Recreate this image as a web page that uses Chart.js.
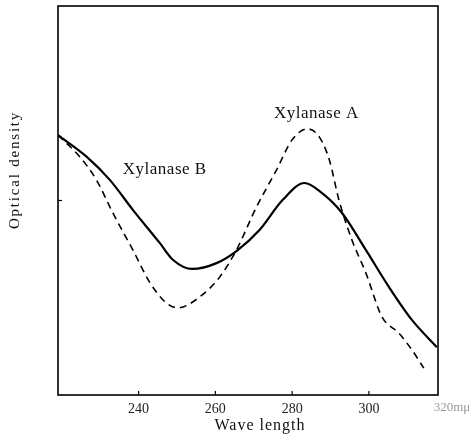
<!DOCTYPE html>
<html><head><meta charset="utf-8">
<script src="https://cdn.jsdelivr.net/npm/chart.js@4/dist/chart.umd.min.js"></script>
<style>html,body{margin:0;padding:0;background:#fff}#wrap{width:470px;height:440px}</style>
</head><body><div id="wrap"><canvas id="c" width="470" height="440"></canvas></div>
<script>
// Wavelength (mμ) samples and optical density (relative units)
const wavelengthB = [219, 226.5, 232.5, 238.5, 245.5, 249, 254, 260.3, 265.5, 271.5, 277.5, 283.2, 287.8, 293, 299.2, 305.2, 311.2, 317.7];
const densityB    = [66.8, 61.2, 55.3, 47.6, 39.1, 34.7, 32.4, 33.9, 37.0, 42.4, 50.1, 54.5, 51.9, 46.8, 37.3, 27.8, 19.3, 12.3];
const wavelengthA = [219, 224.7, 229, 233.3, 238.5, 243, 247.3, 250.2, 255.9, 261.1, 265.5, 270.7, 275.9, 280, 284, 287.1, 289.7, 292.2, 295.6, 299.2, 303.4, 307.8, 311.2, 314.3];
const densityA    = [66.8, 61.2, 55.3, 46.8, 37.3, 28.8, 23.6, 22.4, 25.2, 30.3, 37.3, 48.3, 57.8, 65.6, 68.4, 66.3, 60.4, 50.1, 39.8, 31.4, 20.1, 15.9, 11.6, 6.9];
const xTicks = [240, 260, 280, 300];
const yTicks = [50];
const seriesNames = ["Xylanase A", "Xylanase B"];

const toPts = (xs, ys) => xs.map((x, i) => ({x, y: ys[i]}));
const SERIF = "'Liberation Serif', 'DejaVu Serif', serif";

const decor = {
  id: 'decor',
  afterDraw(chart) {
    const {ctx, chartArea: a, scales: {x, y}} = chart;
    ctx.save();
    ctx.strokeStyle = '#000';
    ctx.lineWidth = 1.6;
    ctx.strokeRect(a.left, a.top, a.right - a.left, a.bottom - a.top);
    ctx.lineWidth = 1.2;
    xTicks.forEach(v => { const px = x.getPixelForValue(v); ctx.beginPath(); ctx.moveTo(px, a.bottom); ctx.lineTo(px, a.bottom - 4); ctx.stroke(); });
    yTicks.forEach(v => { const py = y.getPixelForValue(v); ctx.beginPath(); ctx.moveTo(a.left, py); ctx.lineTo(a.left + 4, py); ctx.stroke(); });
    ctx.fillStyle = '#111';
    ctx.textAlign = 'center'; ctx.textBaseline = 'middle';
    ctx.font = '17px ' + SERIF;
    ctx.letterSpacing = '0.5px';
    ctx.fillText(seriesNames[0], x.getPixelForValue(286.3), y.getPixelForValue(72.3));
    ctx.fillText(seriesNames[1], x.getPixelForValue(246.8), y.getPixelForValue(57.9));
    ctx.font = '16px ' + SERIF;
    ctx.letterSpacing = '1px';
    ctx.fillText('Wave length', 260, a.bottom + 31);
    ctx.letterSpacing = '0px';
    ctx.font = '13px ' + SERIF;
    ctx.fillStyle = '#999';
    ctx.fillText('320mμ', a.right + 14, a.bottom + 13);
    ctx.fillStyle = '#111';
    ctx.translate(15, 170);
    ctx.rotate(-Math.PI / 2);
    ctx.font = '15px ' + SERIF;
    ctx.letterSpacing = '1.8px';
    ctx.fillText('Optical density', 0, 0);
    ctx.restore();
  }
};

new Chart(document.getElementById('c'), {
  type: 'line',
  data: {
    datasets: [
      { label: seriesNames[1], data: toPts(wavelengthB, densityB), borderColor: '#000', borderWidth: 2.2, pointRadius: 0, cubicInterpolationMode: 'monotone', fill: false },
      { label: seriesNames[0], data: toPts(wavelengthA, densityA), borderColor: '#000', borderWidth: 1.6, borderDash: [7, 5], pointRadius: 0, cubicInterpolationMode: 'monotone', fill: false }
    ]
  },
  options: {
    responsive: false,
    animation: false,
    layout: { padding: { top: 6, right: 32, left: 0, bottom: 0 } },
    plugins: { legend: { display: false }, tooltip: { enabled: false } },
    scales: {
      x: {
        type: 'linear', min: 219, max: 318,
        afterBuildTicks: s => { s.ticks = xTicks.map(v => ({value: v})); },
        afterFit: s => { s.height = 45; },
        grid: { display: false, drawTicks: false },
        border: { display: false },
        ticks: { color: '#222', font: { family: SERIF, size: 14 }, padding: 6, maxRotation: 0, callback: v => String(v) }
      },
      y: {
        min: 0, max: 100,
        afterFit: s => { s.width = 58; },
        grid: { display: false, drawTicks: false },
        border: { display: false },
        ticks: { display: false }
      }
    }
  },
  plugins: [decor]
});
</script></body></html>
